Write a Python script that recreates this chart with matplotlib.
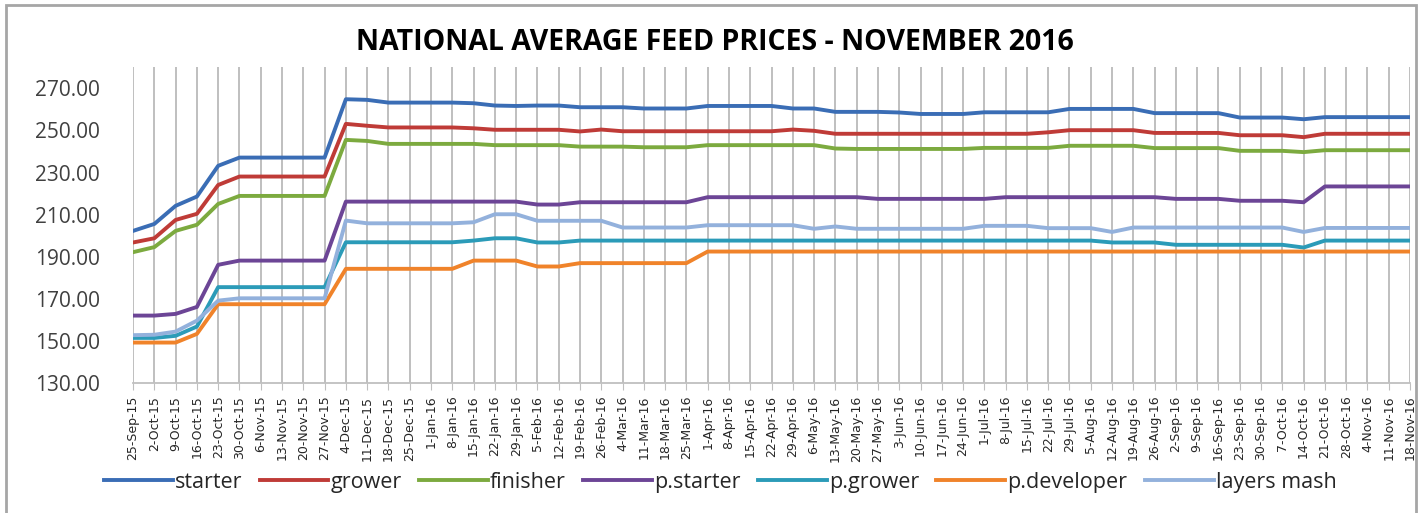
import matplotlib.pyplot as plt
from matplotlib.patches import Rectangle

# weekly dates, 25-Sep-15 .. 18-Nov-16
dates = ['25-Sep-15', '2-Oct-15', '9-Oct-15', '16-Oct-15', '23-Oct-15', '30-Oct-15',
         '6-Nov-15', '13-Nov-15', '20-Nov-15', '27-Nov-15', '4-Dec-15', '11-Dec-15',
         '18-Dec-15', '25-Dec-15', '1-Jan-16', '8-Jan-16', '15-Jan-16', '22-Jan-16',
         '29-Jan-16', '5-Feb-16', '12-Feb-16', '19-Feb-16', '26-Feb-16', '4-Mar-16',
         '11-Mar-16', '18-Mar-16', '25-Mar-16', '1-Apr-16', '8-Apr-16', '15-Apr-16',
         '22-Apr-16', '29-Apr-16', '6-May-16', '13-May-16', '20-May-16', '27-May-16',
         '3-Jun-16', '10-Jun-16', '17-Jun-16', '24-Jun-16', '1-Jul-16', '8-Jul-16',
         '15-Jul-16', '22-Jul-16', '29-Jul-16', '5-Aug-16', '12-Aug-16', '19-Aug-16',
         '26-Aug-16', '2-Sep-16', '9-Sep-16', '16-Sep-16', '23-Sep-16', '30-Sep-16',
         '7-Oct-16', '14-Oct-16', '21-Oct-16', '28-Oct-16', '4-Nov-16', '11-Nov-16',
         '18-Nov-16']

starter = ([202.3, 205.6, 214.2, 218.6, 233.2] + [237.1] * 5 + [264.8, 264.5] + [263.2] * 4
           + [262.9, 261.8, 261.6, 261.8, 261.8] + [261.0] * 3 + [260.4] * 3 + [261.6] * 4
           + [260.4] * 2 + [258.8] * 3 + [258.5] + [257.8] * 3 + [258.6] * 4 + [260.2] * 4
           + [258.2] * 4 + [256.1] * 3 + [255.3] + [256.3] * 5)
grower = ([196.8, 198.8, 207.5, 210.4, 224.1] + [228.1] * 5 + [253.1, 252.2] + [251.4] * 4
          + [251.0] + [250.3] * 4 + [249.5, 250.4] + [249.6] * 8 + [250.4, 249.8]
          + [248.4] * 10 + [249.1] + [250.1] * 4 + [248.8] * 4 + [247.7] * 3 + [246.8]
          + [248.4] * 5)
finisher = ([192.2, 194.6, 202.3, 205.2, 215.1] + [218.9] * 5 + [245.5, 245.0] + [243.6] * 5
            + [243.0] * 4 + [242.3] * 3 + [242.0] * 3 + [243.0] * 6 + [241.4] + [241.2] * 6
            + [241.7] * 4 + [242.7] * 4 + [241.6] * 4 + [240.3] * 3 + [239.7] + [240.6] * 5)
p_starter = ([162.1, 162.1, 162.9, 166.2, 186.2] + [188.2] * 5 + [216.2] * 9 + [214.8] * 2
             + [215.9] * 6 + [218.3] * 8 + [217.5] * 6 + [218.3] * 8 + [217.5] * 3
             + [216.6] * 3 + [215.9] + [223.4] * 5)
p_grower = ([151.5, 151.5, 152.5, 156.9] + [175.6] * 6 + [196.9] * 6 + [197.7] + [198.8] * 2
            + [196.8] * 2 + [197.7] * 25 + [196.8] * 3 + [195.7] * 6 + [194.4] + [197.7] * 5)
p_developer = ([149.3] * 3 + [153.4] + [167.5] * 6 + [184.3] * 6 + [188.2] * 3 + [185.4] * 2
               + [187.0] * 6 + [192.5] * 34)
layers_mash = ([152.8, 153.0, 154.5, 159.7, 169.2] + [170.3] * 5 + [207.2] + [205.9] * 5
               + [206.4] + [210.2] * 2 + [207.1] * 4 + [203.9] * 4 + [205.0] * 5 + [203.3, 204.4]
               + [203.3] * 6 + [204.7] * 3 + [203.6] * 3 + [201.8] + [203.9] * 8 + [201.8]
               + [203.7] * 5)

series = [('starter', starter, '#3a6db5'),
          ('grower', grower, '#bf3b37'),
          ('finisher', finisher, '#7caa3f'),
          ('p.starter', p_starter, '#6c4596'),
          ('p.grower', p_grower, '#2b9bb8'),
          ('p.developer', p_developer, '#f0832a'),
          ('layers mash', layers_mash, '#93b1dc')]

plt.rcParams['font.family'] = ['Open Sans', 'DejaVu Sans']

fig = plt.figure(figsize=(14.26, 5.13), dpi=100)
ax = fig.add_axes([0.0933, 0.253, 0.8955, 0.616])

# outer chart border
fig.patches.append(Rectangle((0.004, -0.01), 0.989, 1.0, transform=fig.transFigure,
                             fill=False, edgecolor='#a6a6a6', linewidth=2))

x = list(range(len(dates)))
for name, vals, col in series:
    ax.plot(x, vals, color=col, linewidth=2.8, label=name, solid_joinstyle='round')

ax.set_xlim(0, len(dates) - 1)
ax.set_ylim(130, 280)
ax.set_yticks(range(130, 271, 20))
ax.set_yticklabels(['%.2f' % v for v in range(130, 271, 20)], fontsize=15, color='#404040')
ax.set_xticks(x)
ax.set_xticklabels(dates, rotation=90, fontsize=9, color='#262626', family='Liberation Sans Narrow')
ax.grid(axis='x', color='#bfbfbf', linewidth=1.4)
ax.set_axisbelow(True)
for s in ['top', 'right', 'left']:
    ax.spines[s].set_visible(False)
ax.spines['bottom'].set_color('#bfbfbf')
ax.spines['bottom'].set_linewidth(1.3)
ax.tick_params(axis='y', length=0, pad=24)
ax.tick_params(axis='x', length=5, color='#bfbfbf', pad=4)

fig.text(0.501, 0.918, 'NATIONAL AVERAGE FEED PRICES - NOVEMBER 2016', ha='center', va='center',
         fontsize=20.5, fontweight='bold', color='#000000')

fig.legend(loc='center', bbox_to_anchor=(0.505, 0.06), ncol=7, frameon=False, fontsize=15.5,
           handlelength=3.2, handletextpad=0.1, columnspacing=0.8, labelcolor='#262626')

fig.savefig('out.png', dpi=100)
